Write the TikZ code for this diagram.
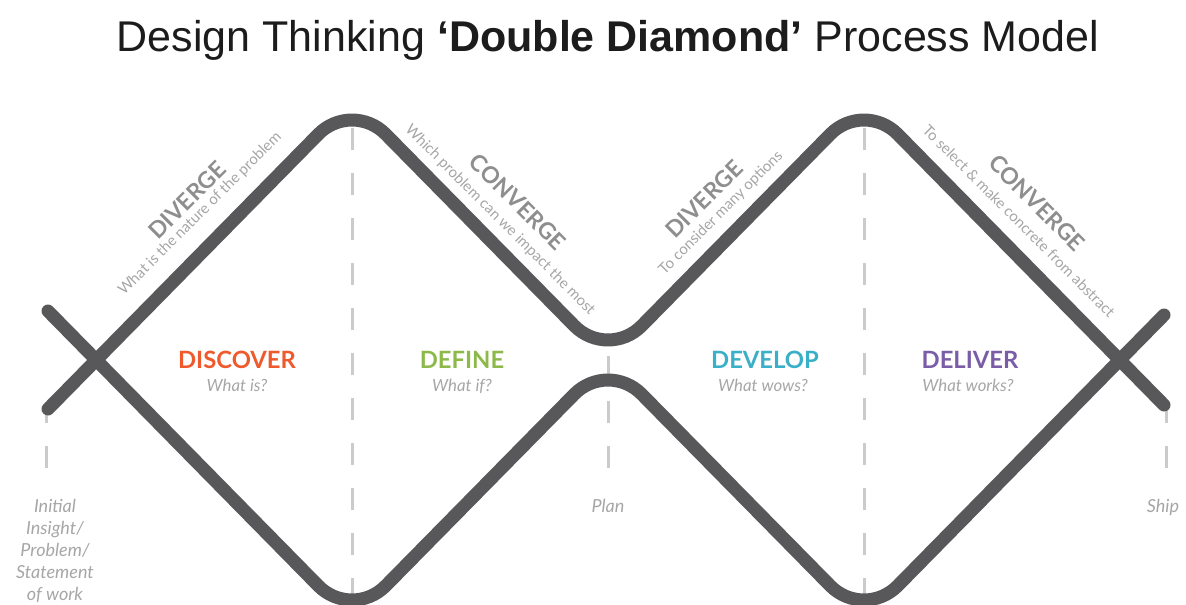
\documentclass[tikz,border=0pt]{standalone}
\usepackage{fontspec}
\setmainfont{Lato}
\newfontfamily\headfont{Liberation Sans}
\usetikzlibrary{positioning}

\definecolor{wavegrey}{HTML}{58585A}
\definecolor{guidegrey}{HTML}{CBCBCB}
\definecolor{trendgrey}{HTML}{8E8E8E}
\definecolor{notegrey}{HTML}{A6A6A6}
\definecolor{titleblack}{HTML}{1C1C1C}
\definecolor{discovercol}{HTML}{EE5A2C}
\definecolor{definecol}{HTML}{8DB94B}
\definecolor{developcol}{HTML}{3AAFC8}
\definecolor{delivercol}{HTML}{7B5CA7}

\tikzset{%
    wave/.style={draw=wavegrey, line width=6.5pt, line cap=round,
        rounded corners=24pt},
    guide/.style={draw=guidegrey, line width=1.5pt,
        dash pattern=on 11pt off 11.5pt},
    phase/.style={font=\fontsize{11.9}{14}\selectfont\bfseries,
        inner sep=0pt, anchor=base},
    question/.style={font=\fontsize{8.4}{10}\selectfont\itshape,
        text=notegrey, inner sep=0pt, anchor=base},
    trend/.style={font=\fontsize{11.5}{13}\selectfont\bfseries,
        text=trendgrey, inner sep=0pt},
    trendnote/.style={font=\fontsize{7.5}{9}\selectfont,
        text=notegrey, inner sep=0pt},
    milestone/.style={font=\fontsize{9}{11}\selectfont\itshape,
        text=notegrey, align=center, inner sep=0pt, anchor=base}
}

\begin{document}
\begin{tikzpicture}[x=0.5pt, y=-0.5pt]

    \useasboundingbox (0, 0) rectangle (1186, 604);

    % dashed guides, behind the waves
    \foreach \gx in {46, 1166}{%
        \draw[guide] (\gx, 468) -- (\gx, 402);
    };
    \draw[guide] (608, 468) -- (608, 345);
    \foreach \gx in {352, 864}{%
        \draw[guide] (\gx, 128) -- (\gx, 604);
    };

    % the two diamonds
    \draw[wave] (48, 409) -- (352, 100) -- (608, 360) -- (864, 100)
        -- (1164, 405);
    \draw[wave] (48, 311) -- (352, 620) -- (608, 360) -- (864, 620)
        -- (1164, 315);

    \node[font=\headfont\fontsize{21.5}{26}\selectfont, text=titleblack,
        anchor=base, inner sep=0pt] (title) at (608, 52)
        {Design Thinking \textbf{‘Double Diamond’} Process Model};

    \node[trend, rotate=45] (diverge1) at (187, 200) {DIVERGE};
    \node[trendnote, rotate=45] (diverge1note) at (200, 214)
        {What is the nature of the problem};
    \node[trend, rotate=-45] (converge1) at (518, 202) {CONVERGE};
    \node[trendnote, rotate=-45] (converge1note) at (500, 220)
        {Which problem can we impact the most};
    \node[trend, rotate=45] (diverge2) at (704, 199) {DIVERGE};
    \node[trendnote, rotate=45] (diverge2note) at (721, 213)
        {To consider many options};
    \node[trend, rotate=-45] (converge2) at (1037, 203) {CONVERGE};
    \node[trendnote, rotate=-45] (converge2note) at (1019, 221)
        {To select \& make concrete from abstract};

    \node[phase, text=discovercol] (discover) at (237, 368) {DISCOVER};
    \node[question] (discoverq) at (237, 391) {What is?};
    \node[phase, text=definecol] (define) at (462, 368) {DEFINE};
    \node[question] (defineq) at (462, 391) {What if?};
    \node[phase, text=developcol] (develop) at (765, 368) {DEVELOP};
    \node[question] (developq) at (763, 391) {What wows?};
    \node[phase, text=delivercol] (deliver) at (970, 368) {DELIVER};
    \node[question] (deliverq) at (968, 391) {What works?};

    % a multi-line node sits on its last baseline
    \node[milestone] (start) at (55, 600)
        {Initial\\Insight/\\Problem/\\Statement\\of work};
    \node[milestone] (plan) at (608, 512) {Plan};
    \node[milestone] (ship) at (1163, 512) {Ship};

\end{tikzpicture}
\end{document}
